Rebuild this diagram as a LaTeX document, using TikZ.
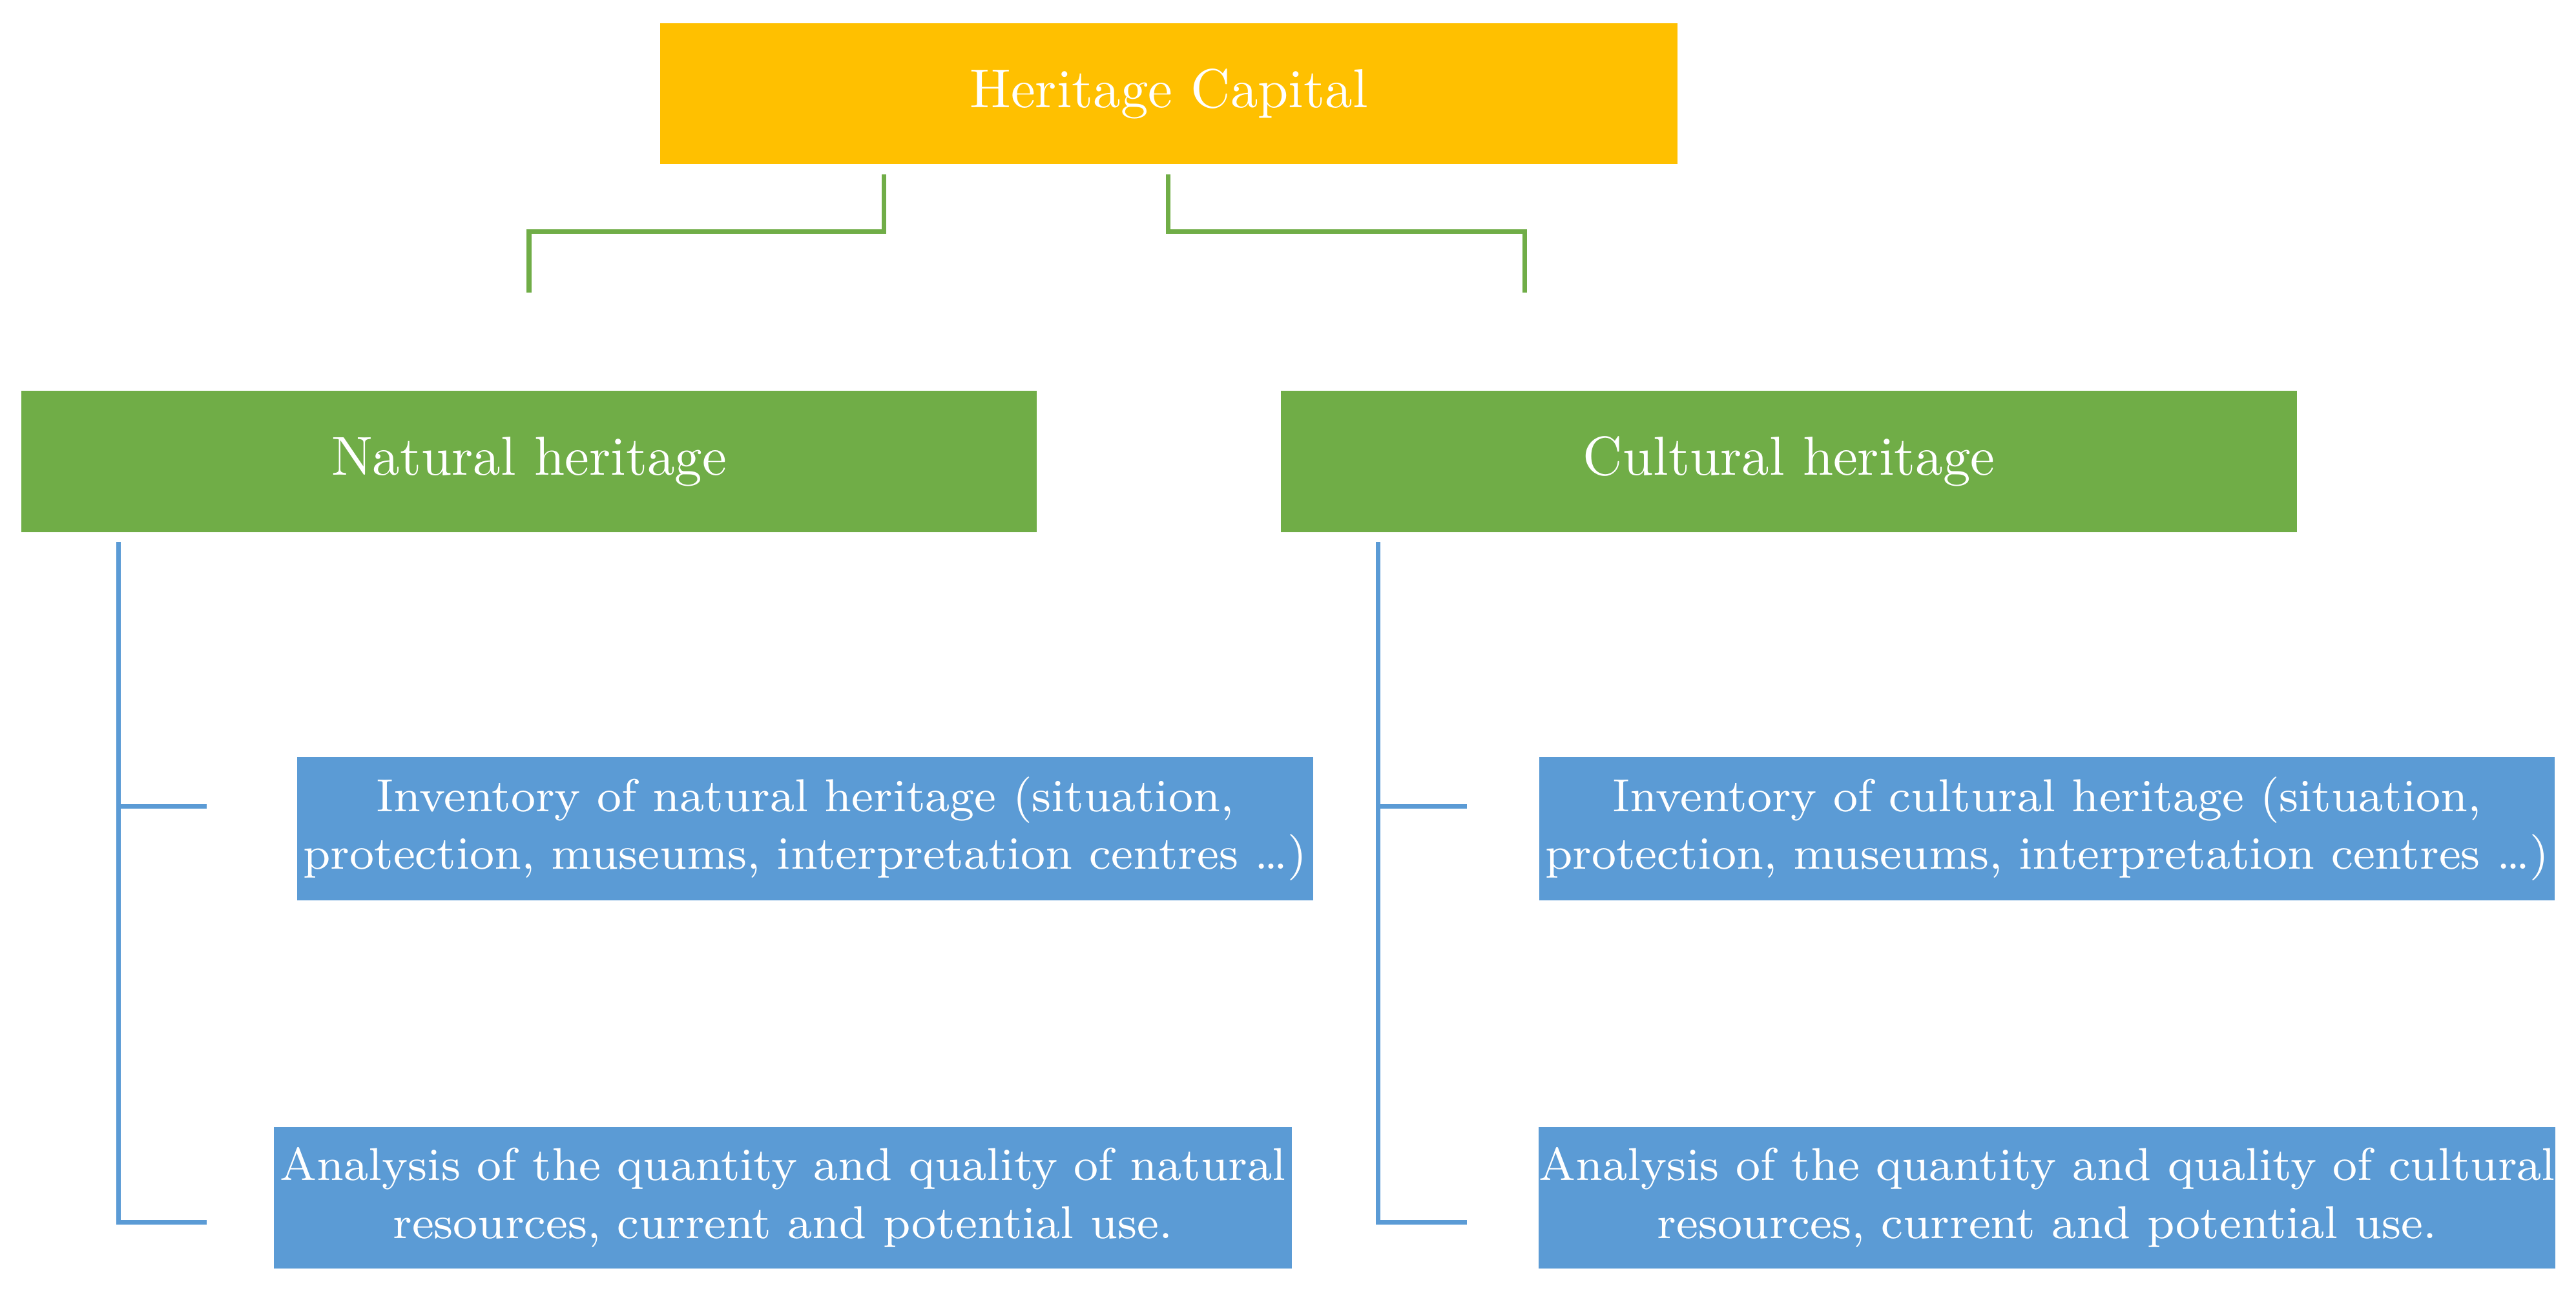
\documentclass[tikz,border=0pt]{standalone}
\begin{document}
\begin{tikzpicture}[x=0.01cm,y=-0.01cm,
 box/.style={draw=none,minimum height=0.86cm,text=white,align=center,inner sep=0pt},
 top/.style={box,fill=yellow!75!orange,fill={rgb,255:red,255;green,192;blue,0},font=\fontsize{9.5}{11}\selectfont},
 grn/.style={box,fill={rgb,255:red,112;green,173;blue,71},font=\fontsize{9.5}{11}\selectfont},
 blu/.style={box,fill={rgb,255:red,91;green,155;blue,213},font=\fontsize{8}{10}\selectfont},
 gl/.style={draw={rgb,255:red,112;green,173;blue,71},line width=0.8pt},
 bl/.style={draw={rgb,255:red,91;green,155;blue,213},line width=0.8pt}]
\useasboundingbox (0,0) rectangle (1568,788);
\node[top,minimum width=6.19cm] (hc) at (711.5,57) {Heritage Capital};
\node[grn,minimum width=6.18cm] (nh) at (322,281) {Natural heritage};
\node[grn,minimum width=6.18cm] (ch) at (1089,281) {Cultural heritage};
\node[blu,minimum width=6.18cm,minimum height=0.87cm] (n1) at (490,504.5) {Inventory of natural heritage (situation,\\protection, museums, interpretation centres \ldots)};
\node[blu,minimum width=6.19cm,minimum height=0.86cm] (n2) at (476.5,729) {Analysis of the quantity and quality of natural\\resources, current and potential use.};
\node[blu,minimum width=6.18cm,minimum height=0.87cm] (c1) at (1246,504.5) {Inventory of cultural heritage (situation,\\protection, museums, interpretation centres \ldots)};
\node[blu,minimum width=6.18cm,minimum height=0.86cm] (c2) at (1246,729) {Analysis of the quantity and quality of cultural\\resources, current and potential use.};
\coordinate (ga) at (538,106); \coordinate (gb) at (322,178);
\coordinate (gc) at (711,106); \coordinate (gd) at (928,178);
\draw[gl] (ga) -- (538,141) -| (gb);
\draw[gl] (gc) -- (711,141) -| (gd);
\coordinate (la) at (72,330); \coordinate (lb) at (126,491); \coordinate (lc) at (126,744);
\coordinate (ra) at (839,330); \coordinate (rb) at (893,491); \coordinate (rc) at (893,744);
\draw[bl] (la) |- (lc); \draw[bl] (72,491) -- (lb);
\draw[bl] (ra) |- (rc); \draw[bl] (839,491) -- (rb);
\end{tikzpicture}
\end{document}
